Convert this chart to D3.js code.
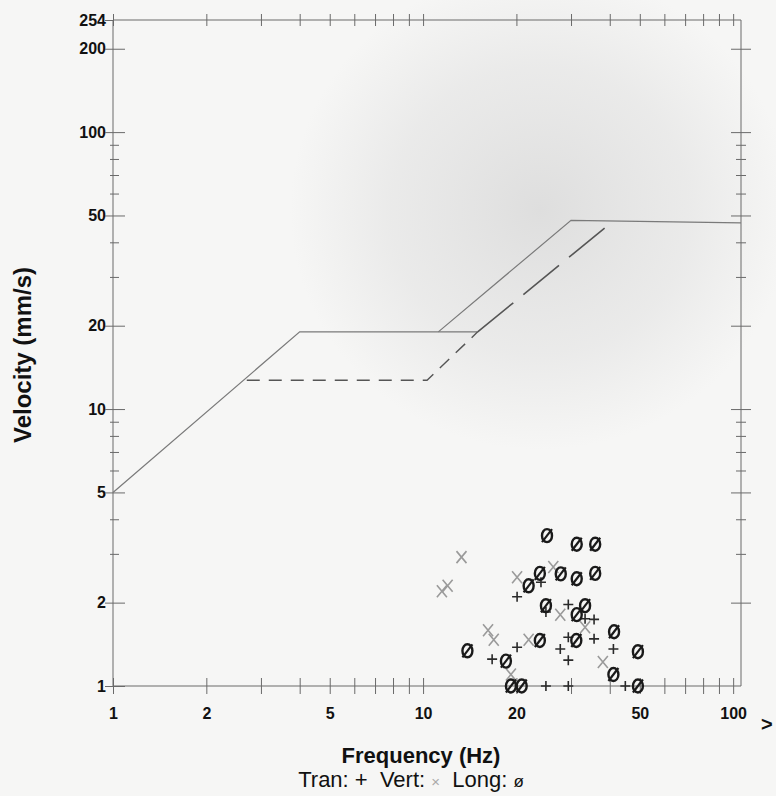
<!DOCTYPE html>
<html>
<head>
<meta charset="utf-8">
<script src="https://cdn.jsdelivr.net/npm/d3@7"></script>
<style>
  html,body{margin:0;padding:0;background:#f6f6f5;}
  svg{display:block;}
  text{font-family:"Liberation Sans",Arial,sans-serif;}
</style>
</head>
<body>
<svg id="chart" width="776" height="796"></svg>
<script>
// ---------- data ----------
const xMajorTicks = [1, 2, 5, 10, 20, 50, 100];
const xMinorTicks = [3, 4, 6, 7, 8, 9, 30, 40, 60, 70, 80, 90];
const yMajorTicks = [1, 2, 5, 10, 20, 50, 100, 200, 254];
const yMinorTicks = [3, 4, 6, 7, 8, 9, 30, 40, 60, 70, 80, 90];

// limit curves [frequency Hz, velocity mm/s]
const limitSolidA = [[1, 5], [4, 19], [15, 19]];
const limitSolidB = [[11.2, 19], [30, 48], [106, 47]];
const limitShortDash = [[2.7, 12.7], [10.3, 12.7], [15, 19]];
const limitLongDash = [[15, 19], [38.5, 45]];

// measured peaks [frequency Hz, velocity mm/s]
const tranPoints = [
  [24.0, 2.37], [20.1, 2.1], [29.4, 1.97], [24.9, 1.85], [33.3, 1.75], [35.6, 1.74],
  [29.4, 1.5], [35.6, 1.48], [20.1, 1.38], [27.7, 1.36], [41.1, 1.36], [16.7, 1.25],
  [29.4, 1.24], [24.9, 1.0], [29.4, 1.0], [44.9, 1.0]
];
const vertPoints = [
  [13.3, 2.92], [11.5, 2.2], [12.0, 2.3], [26.3, 2.69], [20.1, 2.47], [27.7, 1.81],
  [33.3, 1.63], [16.2, 1.59], [16.9, 1.47], [21.9, 1.47], [38.0, 1.22], [19.2, 1.1]
];
const longPoints = [
  [25.1, 3.49], [31.3, 3.25], [35.9, 3.25], [23.8, 2.55], [27.8, 2.54], [31.3, 2.44],
  [35.9, 2.55], [21.9, 2.3], [24.9, 1.95], [33.3, 1.95], [31.3, 1.81], [41.3, 1.57],
  [23.8, 1.46], [31.2, 1.46], [13.9, 1.34], [49.3, 1.33], [18.5, 1.23], [41.1, 1.1],
  [19.2, 1.0], [20.8, 1.0], [49.3, 1.0]
];

// ---------- layout ----------
const svg = d3.select("#chart");
const x = d3.scaleLog().domain([1, 106]).range([113, 741]);
const y = d3.scaleLog().domain([1, 254]).range([686, 20]);
const axisColor = "#6a6a6a";
const lineColor = "#7a7a7a";

// scanned-paper shading
const defs = svg.append("defs");
const rg = defs.append("radialGradient").attr("id", "shade");
rg.append("stop").attr("offset", "0%").attr("stop-color", "#d6d6d6").attr("stop-opacity", 0.75);
rg.append("stop").attr("offset", "60%").attr("stop-color", "#dcdcdc").attr("stop-opacity", 0.45);
rg.append("stop").attr("offset", "100%").attr("stop-color", "#dcdcdc").attr("stop-opacity", 0);
svg.append("ellipse").attr("cx", 540).attr("cy", 210).attr("rx", 250).attr("ry", 240)
  .attr("fill", "url(#shade)");

// frame lines
const g = svg.append("g");
g.append("line").attr("x1", x(1)).attr("x2", x(1)).attr("y1", y(254)).attr("y2", y(1))
  .attr("stroke", axisColor).attr("stroke-width", 1);
g.append("line").attr("x1", x(106)).attr("x2", x(106)).attr("y1", y(254)).attr("y2", y(1))
  .attr("stroke", axisColor).attr("stroke-width", 1);
g.append("line").attr("x1", x(1)).attr("x2", x(106)).attr("y1", y(1)).attr("y2", y(1))
  .attr("stroke", axisColor).attr("stroke-width", 1.2);
g.append("line").attr("x1", x(1)).attr("x2", x(106)).attr("y1", y(254)).attr("y2", y(254))
  .attr("stroke", axisColor).attr("stroke-width", 1.2);

// bottom axis via d3 axis (ticks drawn crossing)
const xAll = xMajorTicks.concat(xMinorTicks).sort((a, b) => a - b);
const bottomAxis = g.append("g").attr("transform", `translate(0,${y(1)})`)
  .call(d3.axisBottom(x).tickValues(xAll).tickSize(0).tickFormat(d => xMajorTicks.includes(d) ? d : ""));
bottomAxis.select(".domain").remove();
bottomAxis.selectAll(".tick text").attr("y", 33).attr("dy", 0).attr("font-size", 16).attr("font-weight", "bold")
  .attr("fill", "#111").style("font-family", "Liberation Sans, Arial, sans-serif");
bottomAxis.selectAll(".tick").append("line").attr("y1", -8).attr("y2", 8)
  .attr("stroke", axisColor).attr("stroke-width", 1);

// top border ticks
const topAxis = g.append("g").attr("transform", `translate(0,${y(254)})`)
  .call(d3.axisTop(x).tickValues(xAll).tickSize(0).tickFormat(""));
topAxis.select(".domain").remove();
topAxis.selectAll(".tick").append("line").attr("y1", -6).attr("y2", 6)
  .attr("stroke", axisColor).attr("stroke-width", 1);

// left axis
const leftAxis = g.append("g").attr("transform", `translate(${x(1)},0)`)
  .call(d3.axisLeft(y).tickValues(yMajorTicks).tickSize(0).tickPadding(7).tickFormat(d => d));
leftAxis.select(".domain").remove();
leftAxis.selectAll(".tick text").attr("font-size", 16).attr("font-weight", "bold").attr("fill", "#111")
  .style("font-family", "Liberation Sans, Arial, sans-serif");
leftAxis.selectAll(".tick").append("line").attr("x1", -8).attr("x2", d => d === 254 ? 0 : 12)
  .attr("stroke", axisColor).attr("stroke-width", 1);
const leftMinor = g.append("g").attr("transform", `translate(${x(1)},0)`)
  .call(d3.axisLeft(y).tickValues(yMinorTicks).tickSize(0).tickFormat(""));
leftMinor.select(".domain").remove();
leftMinor.selectAll(".tick").append("line").attr("x1", -3).attr("x2", 6)
  .attr("stroke", axisColor).attr("stroke-width", 1);

// right axis ticks
const rightAxis = g.append("g").attr("transform", `translate(${x(106)},0)`)
  .call(d3.axisRight(y).tickValues(yMajorTicks.filter(d => d > 1 && d < 254).concat(yMinorTicks)).tickSize(0).tickFormat(""));
rightAxis.select(".domain").remove();
rightAxis.selectAll(".tick").append("line").attr("x1", d => yMajorTicks.includes(d) ? -10 : -5)
  .attr("x2", d => yMajorTicks.includes(d) ? 10 : 5)
  .attr("stroke", axisColor).attr("stroke-width", 1);

// limit curves
const lineGen = d3.line().x(d => x(d[0])).y(d => y(d[1]));
const curves = g.append("g").attr("fill", "none").attr("stroke", lineColor);
curves.append("path").attr("d", lineGen(limitSolidA)).attr("stroke-width", 1.2);
curves.append("path").attr("d", lineGen(limitSolidB)).attr("stroke-width", 1.2);
curves.append("path").attr("d", lineGen(limitShortDash)).attr("stroke-width", 1.4)
  .attr("stroke", "#555").attr("stroke-dasharray", "13,9");
curves.append("path").attr("d", lineGen(limitLongDash)).attr("stroke-width", 1.6)
  .attr("stroke", "#555").attr("stroke-dasharray", "46,13");

// markers
const pts = g.append("g");
pts.selectAll(".vert").data(vertPoints).join("path").attr("class", "vert")
  .attr("transform", d => `translate(${x(d[0])},${y(d[1])})`)
  .attr("d", "M-5,-6L5,6M-5,6L5,-6").attr("stroke", "#9a9a9a").attr("stroke-width", 1.6).attr("fill", "none");
pts.selectAll(".tran").data(tranPoints).join("path").attr("class", "tran")
  .attr("transform", d => `translate(${x(d[0])},${y(d[1])})`)
  .attr("d", "M-5,0L5,0M0,-5L0,5").attr("stroke", "#2a2a2a").attr("stroke-width", 1.6).attr("fill", "none");
const longG = pts.selectAll(".long").data(longPoints).join("g").attr("class", "long")
  .attr("transform", d => `translate(${x(d[0])},${y(d[1])})`);
longG.append("ellipse").attr("rx", 5).attr("ry", 6.5).attr("fill", "none")
  .attr("stroke", "#1a1a1a").attr("stroke-width", 2.4);
longG.append("line").attr("x1", -5).attr("y1", 6.5).attr("x2", 5).attr("y2", -6.5)
  .attr("stroke", "#1a1a1a").attr("stroke-width", 2.2);

// titles
svg.append("text").attr("x", 421).attr("y", 763).attr("text-anchor", "middle")
  .attr("font-size", 22).attr("font-weight", "bold").attr("fill", "#111").text("Frequency (Hz)");
svg.append("text").attr("transform", "translate(31,355) rotate(-90)").attr("text-anchor", "middle")
  .attr("font-size", 24).attr("font-weight", "bold").attr("fill", "#111").text("Velocity (mm/s)");
svg.append("text").attr("x", 761).attr("y", 731).attr("font-size", 20).attr("font-weight", "bold")
  .attr("fill", "#111").text(">");

// legend
const leg = svg.append("text").attr("x", 411).attr("y", 787).attr("text-anchor", "middle")
  .attr("font-size", 22).attr("fill", "#111").attr("xml:space", "preserve").style("white-space", "pre");
leg.append("tspan").text("Tran: +  Vert: ");
leg.append("tspan").attr("fill", "#aaa").attr("font-size", 15).text("×");
leg.append("tspan").text("  Long: ");
leg.append("tspan").attr("font-size", 17).text("ø");
</script>
</body>
</html>
